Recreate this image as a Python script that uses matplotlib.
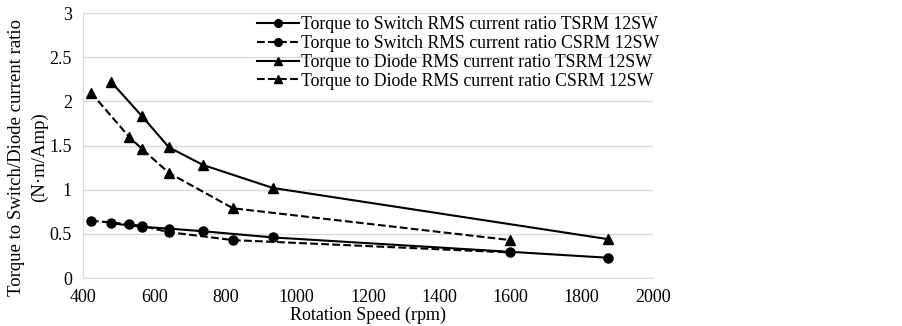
import numpy as np
import matplotlib.pyplot as plt

plt.rcParams['font.family'] = ['Liberation Serif', 'DejaVu Serif']

# rotation speeds (rpm)
speed_tsrm = [479, 566, 641, 737, 933, 1875]
speed_csrm = [422, 529, 566, 641, 821, 1600]

switch_tsrm = [0.62, 0.58, 0.56, 0.53, 0.46, 0.23]
switch_csrm = [0.65, 0.61, 0.59, 0.52, 0.43, 0.29]
diode_tsrm = [2.22, 1.83, 1.48, 1.28, 1.02, 0.44]
diode_csrm = [2.10, 1.60, 1.46, 1.19, 0.79, 0.43]

labels = ['Torque to Switch RMS current ratio TSRM 12SW',
          'Torque to Switch RMS current ratio CSRM 12SW',
          'Torque to Diode RMS current ratio TSRM 12SW',
          'Torque to Diode RMS current ratio CSRM 12SW']

fs = 13

fig = plt.figure(figsize=(9.03, 3.26), dpi=100)
ax = fig.add_axes([0.092, 0.147, 0.631, 0.813])

ax.plot(speed_tsrm, switch_tsrm, 'k-', marker='o', ms=6.5, lw=1.5, label=labels[0])
ax.plot(speed_csrm, switch_csrm, 'k--', marker='o', ms=6.5, lw=1.5, label=labels[1])
ax.plot(speed_tsrm, diode_tsrm, 'k-', marker='^', ms=6.5, lw=1.5, label=labels[2])
ax.plot(speed_csrm, diode_csrm, 'k--', marker='^', ms=6.5, lw=1.5, label=labels[3])

ax.set_xlim(400, 2000)
ax.set_ylim(0, 3)
ax.set_xticks(range(400, 2001, 200))
ax.set_yticks([0, 0.5, 1, 1.5, 2, 2.5, 3])
ax.set_yticklabels(['0', '0.5', '1', '1.5', '2', '2.5', '3'])
ax.yaxis.grid(True, color='#d9d9d9', lw=1)
ax.set_axisbelow(True)
for s in ['top', 'right']:
    ax.spines[s].set_visible(False)
ax.spines['left'].set_color('#d9d9d9')
ax.spines['bottom'].set_color('#d9d9d9')
ax.tick_params(axis='y', length=0, labelsize=fs, pad=8)
ax.tick_params(axis='x', length=0, labelsize=fs, pad=8)

ax.set_xlabel('Rotation Speed (rpm)', fontsize=fs, labelpad=0)
ax.set_ylabel('Torque to Switch/Diode current ratio\n(N·m/Amp)', fontsize=13.5,
              linespacing=1.4)
ax.yaxis.set_label_coords(-0.062, 0.455)

ax.legend(loc='upper right', bbox_to_anchor=(1.024, 1.015), frameon=False,
          fontsize=12.8, handlelength=2.4, handletextpad=0.1, labelspacing=0.1,
          borderaxespad=0, markerscale=0.85)

fig.savefig('out.png', dpi=100)
